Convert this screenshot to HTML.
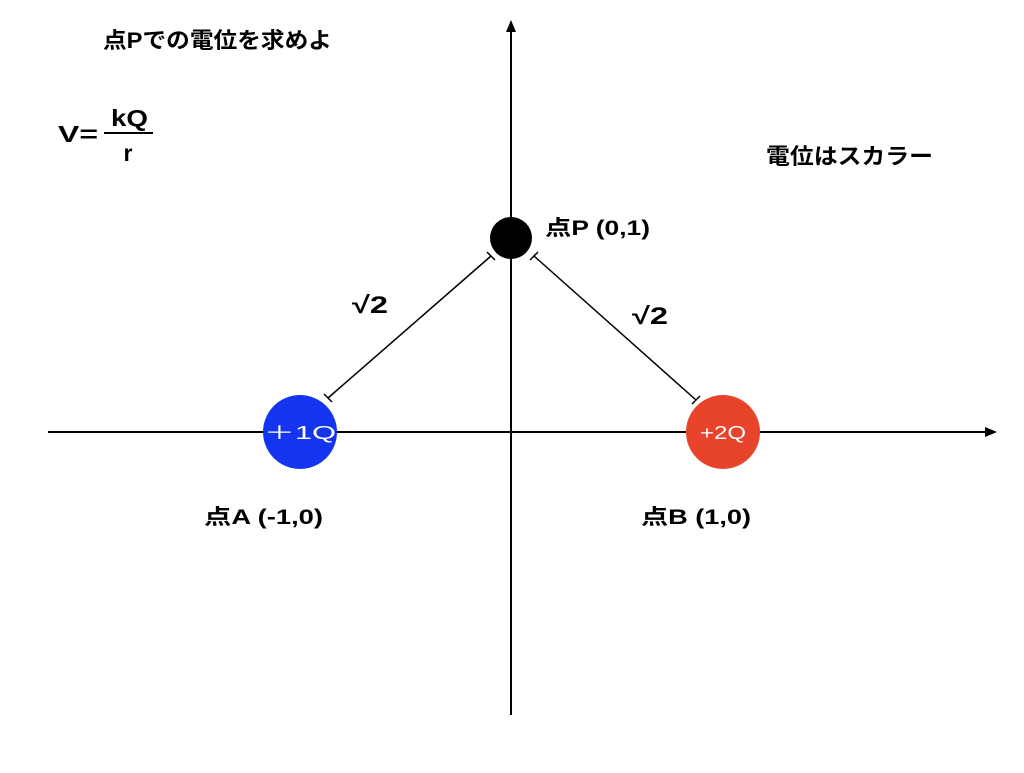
<!DOCTYPE html>
<html><head><meta charset="utf-8"><style>
body{margin:0;background:#fff;width:1024px;height:768px;overflow:hidden}
text{font-family:"Liberation Sans","Noto Sans CJK JP",sans-serif}
</style></head><body>
<svg width="1024" height="768" xmlns="http://www.w3.org/2000/svg">
<line x1="511" y1="28" x2="511" y2="715" stroke="#000" stroke-width="2"/>
<polygon points="511,20 506,32 516,32" fill="#000"/>
<line x1="48" y1="432" x2="988" y2="432" stroke="#000" stroke-width="2"/>
<polygon points="997,432 985,427 985,437" fill="#000"/>
<line x1="328" y1="398" x2="491" y2="256" stroke="#000" stroke-width="1.5"/>
<line x1="324" y1="394" x2="332" y2="402" stroke="#000" stroke-width="1.5"/>
<line x1="487" y1="252" x2="495" y2="260" stroke="#000" stroke-width="1.5"/>
<line x1="534" y1="256" x2="696" y2="400" stroke="#000" stroke-width="1.5"/>
<line x1="530" y1="260" x2="538" y2="252" stroke="#000" stroke-width="1.5"/>
<line x1="692" y1="404" x2="700" y2="396" stroke="#000" stroke-width="1.5"/>
<circle cx="511" cy="238" r="21" fill="#000"/>
<circle cx="300" cy="432" r="37" fill="#1534f0"/>
<circle cx="723" cy="432" r="37" fill="#e8432b"/>
<text x="264" y="439" fill="#fff" font-size="18" textLength="72" lengthAdjust="spacingAndGlyphs">＋1Q</text>
<text x="700" y="439" fill="#fff" font-size="18" textLength="46" lengthAdjust="spacingAndGlyphs">+2Q</text>
<text x="545" y="235" font-size="21" font-weight="bold" textLength="105" lengthAdjust="spacingAndGlyphs">点P (0,1)</text>
<text x="204" y="524" font-size="21" font-weight="bold" textLength="119" lengthAdjust="spacingAndGlyphs">点A (-1,0)</text>
<text x="641" y="524" font-size="21" font-weight="bold" textLength="110" lengthAdjust="spacingAndGlyphs">点B (1,0)</text>
<text x="352" y="313" font-size="24" font-weight="bold" textLength="36" lengthAdjust="spacingAndGlyphs">√2</text>
<text x="632" y="324" font-size="24" font-weight="bold" textLength="36" lengthAdjust="spacingAndGlyphs">√2</text>
<text x="103" y="48" font-size="22" font-weight="bold" textLength="229" lengthAdjust="spacingAndGlyphs">点Pでの電位を求めよ</text>
<text x="766" y="164" font-size="22" font-weight="bold" textLength="167" lengthAdjust="spacingAndGlyphs">電位はスカラー</text>
<text x="58" y="142" font-size="23" font-weight="bold" textLength="40" lengthAdjust="spacingAndGlyphs">V=</text>
<line x1="104" y1="133" x2="153" y2="133" stroke="#000" stroke-width="2"/>
<text x="111" y="126" font-size="23" font-weight="bold" textLength="37" lengthAdjust="spacingAndGlyphs">kQ</text>
<text x="128" y="161" font-size="23" font-weight="bold" text-anchor="middle">r</text>
</svg>
</body></html>
